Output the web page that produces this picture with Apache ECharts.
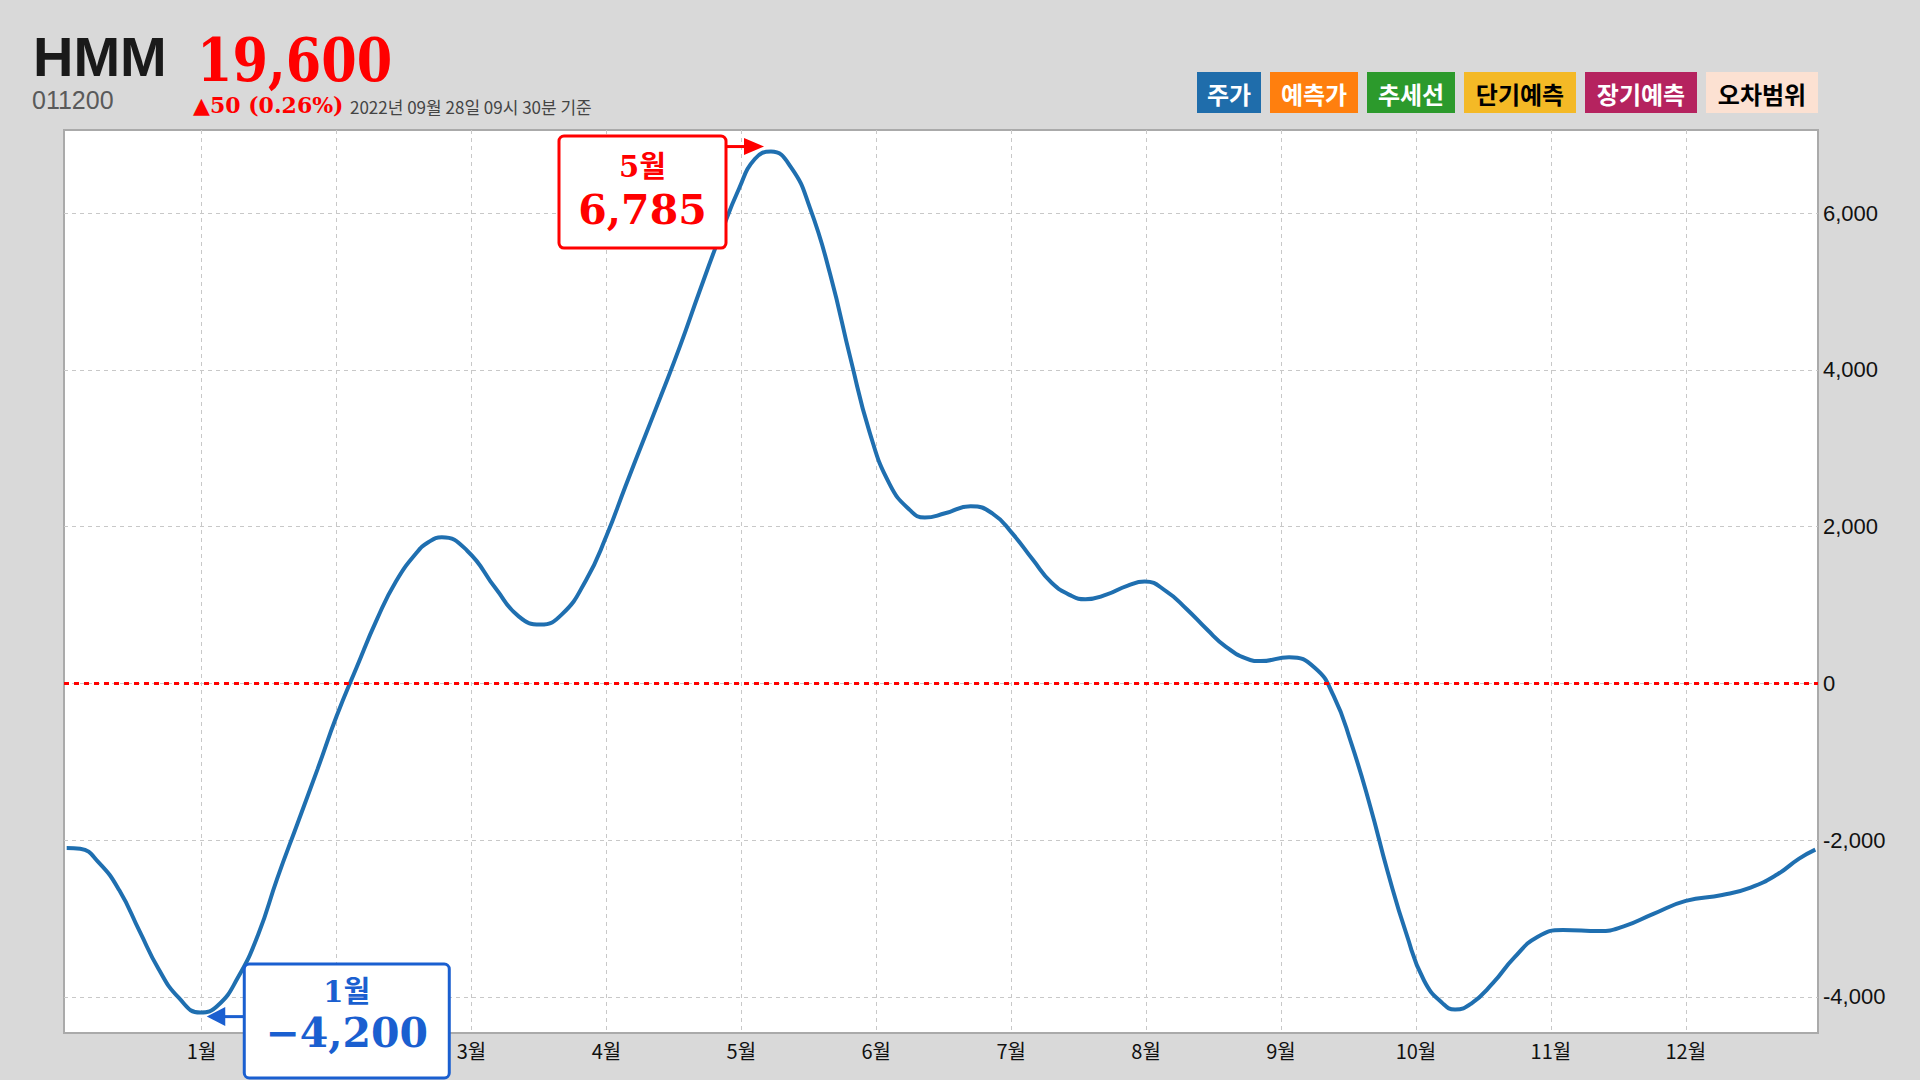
<!DOCTYPE html>
<html>
<head>
<meta charset="utf-8">
<script src="https://cdn.jsdelivr.net/npm/echarts@6/dist/echarts.min.js"></script>
<style>
html,body{margin:0;padding:0;background:#d9d9d9;}
#c{width:1920px;height:1080px;}
</style>
</head>
<body>
<div id="c"></div>
<script>
// ---- data ----
const monthTicks = [1,2,3,4,5,6,7,8,9,10,11,12];
const monthLabels = ['1월','2월','3월','4월','5월','6월','7월','8월','9월','10월','11월','12월'];
const hiddenMonthLabels = [2]; // 2월 is covered by the low-point callout in the reference
const yTicks = [-4000,-2000,0,2000,4000,6000];
const seriesX = [0,0.10,0.24,0.39,0.54,0.68,0.83,0.99,1.12,1.27,1.42,1.56,1.71,1.86,2.00,2.15,2.30,2.44,2.59,2.68,2.78,2.97,3.18,3.35,3.51,3.67,3.85,4.00,4.14,4.29,4.40,4.545,4.69,4.84,4.985,5.10,5.22,5.37,5.51,5.66,5.81,5.95,6.10,6.25,6.36,6.51,6.70,6.86,7.01,7.16,7.30,7.45,7.55,7.71,7.86,7.99,8.15,8.30,8.45,8.59,8.74,8.85,9.06,9.25,9.39,9.52,9.66,9.79,9.93,10.06,10.20,10.29,10.41,10.57,10.73,10.90,11.09,11.36,11.54,11.76,12.00,12.27,12.48,12.68,12.84,12.96];
const seriesY = [-2100,-2110,-2290,-2640,-3160,-3640,-4010,-4200,-4110,-3750,-3200,-2490,-1790,-1090,-420,210,820,1300,1660,1800,1865,1690,1210,855,750,880,1320,1880,2510,3170,3650,4300,5000,5700,6320,6690,6785,6580,6060,5210,4140,3210,2540,2210,2115,2170,2260,2170,1910,1580,1285,1115,1075,1135,1245,1300,1175,950,690,470,320,285,335,200,-160,-760,-1560,-2400,-3200,-3790,-4085,-4160,-4085,-3825,-3495,-3235,-3145,-3160,-3100,-2940,-2775,-2700,-2605,-2435,-2235,-2120];
const legendNames = ['주가','예측가','추세선','단기예측','장기예측','오차범위'];
const legendColors = ['#1f6dab','#ff7f0e','#2c9a2c','#f4b926','#b5235f','#fce1d2'];
const legendTextColors = ['#ffffff','#ffffff','#ffffff','#000000','#ffffff','#000000'];
const stockName = 'HMM';
const stockPrice = '19,600';
const stockCode = '011200';
const stockChange = '▲50 (0.26%)';
const stockTime = '2022년 09월 28일 09시 30분 기준';
const peakLabel = '5월';
const lowLabel = '1월';

// ---- chart ----
const chart = echarts.init(document.getElementById('c'), null, {renderer:'svg', width:1920, height:1080});
const fmt = v => Math.round(v).toLocaleString('en-US');
const labelTicks = monthTicks.filter(m => hiddenMonthLabels.indexOf(m) < 0);

const titleGraphics = [
  {type:'text', x:33, y:56, z:100, style:{text:stockName, fill:'#1a1a1a', font:'bold 56px "Liberation Sans", Arial, sans-serif', lineHeight:40, align:'left', verticalAlign:'middle'}},
  {type:'text', x:197, y:60, z:100, scaleX:0.85, style:{text:stockPrice, fill:'#ff0000', font:'bold 60px "DejaVu Serif", serif', lineHeight:46, align:'left', verticalAlign:'middle'}},
  {type:'text', x:32, y:100, z:100, style:{text:stockCode, fill:'#5a5a5a', font:'25px "Liberation Sans", Arial, sans-serif', lineHeight:19, align:'left', verticalAlign:'middle'}},
  {type:'text', x:193, y:105, z:100, style:{text:stockChange, fill:'#ff0000', font:'bold 22px "DejaVu Serif", serif', lineHeight:20, align:'left', verticalAlign:'middle'}},
  {type:'text', x:350, y:106, z:100, style:{text:stockTime, fill:'#444444', font:'17px "Noto Sans CJK KR", sans-serif', lineHeight:18, align:'left', verticalAlign:'middle'}}
];

const legendGraphics = [];
(function(){
  let xr = 1818;
  for (let i = legendNames.length - 1; i >= 0; i--) {
    const w = legendNames[i].length * 24 + 16;
    const x = xr - w;
    legendGraphics.push({type:'rect', z:100, shape:{x:x, y:72, width:w, height:41}, style:{fill:legendColors[i]}});
    legendGraphics.push({type:'text', z:101, x:x + w/2, y:93, style:{text:legendNames[i], fill:legendTextColors[i], font:'bold 24px "Noto Sans CJK KR", sans-serif', align:'center', verticalAlign:'middle'}});
    xr = x - 9;
  }
})();

const option = {
  backgroundColor:'#d9d9d9',
  animation:false,
  grid:{left:64, right:102, top:130, bottom:47, show:true, backgroundColor:'#ffffff', borderColor:'#aaaaaa', borderWidth:2},
  xAxis:{
    type:'value', min:-0.02, max:12.98,
    axisLine:{show:false},
    axisTick:{show:false, customValues:monthTicks},
    axisLabel:{customValues:labelTicks, formatter:v => monthLabels[monthTicks.indexOf(Math.round(v))], fontSize:20, color:'#111', margin:7, fontFamily:'"Noto Sans CJK KR", sans-serif'},
    splitLine:{show:true, lineStyle:{color:'#c8c8c8', type:[4,4], width:1}}
  },
  yAxis:{
    type:'value', position:'right', min:-4460, max:7060,
    axisLine:{show:false},
    axisTick:{show:false, customValues:yTicks},
    axisLabel:{customValues:yTicks, formatter:v => fmt(v), fontSize:22, color:'#111', margin:5, fontFamily:'"Liberation Sans", Arial, sans-serif'},
    splitLine:{show:true, lineStyle:{color:'#c8c8c8', type:[4,4], width:1}}
  },
  series:[{
    type:'line', smooth:0.5, symbol:'none',
    data: seriesX.map((x,i) => [x, seriesY[i]]),
    lineStyle:{color:'#1f6fb0', width:4},
    markLine:{silent:true, symbol:['none','none'], label:{show:false}, lineStyle:{color:'#ff0000', type:[5,5], width:3}, data:[{yAxis:0}]}
  }],
  graphic: titleGraphics.concat(legendGraphics)
};
chart.setOption(option);

// ---- annotations placed from the data extremes ----
let iMax = 0, iMin = 0;
seriesY.forEach((v,i) => { if (v > seriesY[iMax]) iMax = i; if (v < seriesY[iMin]) iMin = i; });
const P = chart.convertToPixel({gridIndex:0}, [seriesX[iMax], seriesY[iMax]]);
const M = chart.convertToPixel({gridIndex:0}, [seriesX[iMin], seriesY[iMin]]);

const red = '#ff0000', blue = '#1a5fd0';
const rb = {x:P[0]-212, y:P[1]-15.5, w:167, h:112};
const bb = {x:M[0]+44, y:M[1]-48.6, w:205, h:114};
const annoGraphics = [
  {type:'line', z:110, shape:{x1:rb.x+rb.w, y1:P[1]-5, x2:P[0]-26, y2:P[1]-5}, style:{stroke:red, lineWidth:3}},
  {type:'polygon', z:110, shape:{points:[[P[0]-27,P[1]-13.5],[P[0]-7,P[1]-5],[P[0]-27,P[1]+3.5]]}, style:{fill:red}},
  {type:'rect', z:111, shape:{x:rb.x, y:rb.y, width:rb.w, height:rb.h, r:5}, style:{fill:'#ffffff', stroke:red, lineWidth:3}},
  {type:'text', z:112, x:rb.x+rb.w/2, y:rb.y+31, style:{text:peakLabel, fill:red, font:'bold 29px "DejaVu Serif", "Noto Sans CJK KR", serif', lineHeight:30, align:'center', verticalAlign:'middle'}},
  {type:'text', z:112, x:rb.x+rb.w/2, y:rb.y+74, style:{text:fmt(seriesY[iMax]), fill:red, font:'bold 41px "DejaVu Serif", serif', lineHeight:38, align:'center', verticalAlign:'middle'}},

  {type:'line', z:110, shape:{x1:bb.x, y1:M[1]+4, x2:M[0]+24, y2:M[1]+4}, style:{stroke:blue, lineWidth:3}},
  {type:'polygon', z:110, shape:{points:[[M[0]+25,M[1]-5.5],[M[0]+6.5,M[1]+4],[M[0]+25,M[1]+13.5]]}, style:{fill:blue}},
  {type:'rect', z:111, shape:{x:bb.x, y:bb.y, width:bb.w, height:bb.h, r:5}, style:{fill:'#ffffff', stroke:blue, lineWidth:3}},
  {type:'text', z:112, x:bb.x+bb.w/2, y:bb.y+27.5, style:{text:lowLabel, fill:blue, font:'bold 29px "DejaVu Serif", "Noto Sans CJK KR", serif', lineHeight:30, align:'center', verticalAlign:'middle'}},
  {type:'text', z:112, x:bb.x+bb.w/2, y:bb.y+69, style:{text:fmt(seriesY[iMin]).replace('-', '\u2212'), fill:blue, font:'bold 41px "DejaVu Serif", serif', lineHeight:38, align:'center', verticalAlign:'middle'}}
];
chart.setOption({graphic: titleGraphics.concat(legendGraphics, annoGraphics)}, {replaceMerge:['graphic']});
</script>
</body>
</html>
